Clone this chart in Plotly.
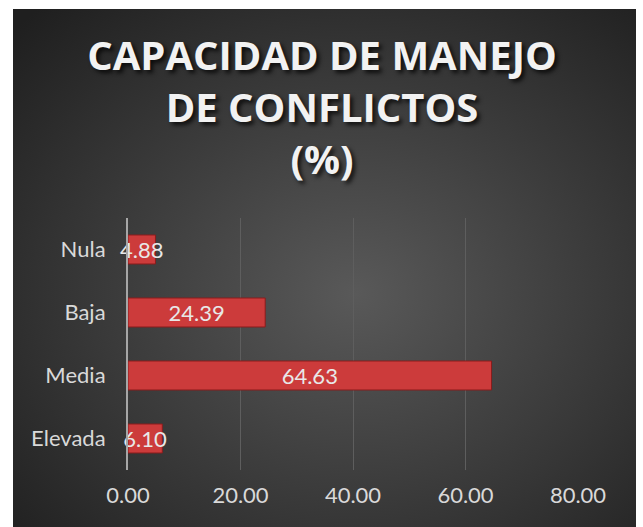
import base64
import plotly.graph_objects as go

categories = ["Nula", "Baja", "Media", "Elevada"]
values = [4.88, 24.39, 64.63, 6.10]
x_tickvals = [0, 20, 40, 60, 80]

svg = """<svg xmlns='http://www.w3.org/2000/svg' width='623' height='518' preserveAspectRatio='none'>
<defs><radialGradient id='g' cx='55%' cy='55%' r='75%'>
<stop offset='0' stop-color='#595959'/><stop offset='1' stop-color='#1f1f1f'/>
</radialGradient></defs>
<rect width='623' height='518' fill='url(#g)'/></svg>"""
bg = "data:image/svg+xml;base64," + base64.b64encode(svg.encode()).decode()

W, H = 643, 527
ml, mr, mt, mb = 128, 65, 218, 57
pw, ph = W - ml - mr, H - mt - mb

fig = go.Figure(go.Bar(
    y=categories, x=values, orientation="h",
    marker=dict(color="#cc3b3b", line=dict(color="#8a1c1c", width=1)),
    text=values, texttemplate="%{x:.2f}", textposition="inside",
    insidetextanchor="middle", constraintext="none", textangle=0,
    textfont=dict(family="Lato", size=22, color="#e8e8e8"),
    cliponaxis=False,
))

fig.update_layout(
    width=W, height=H,
    margin=dict(l=ml, r=mr, t=mt, b=mb),
    paper_bgcolor="white", plot_bgcolor="rgba(0,0,0,0)",
    bargap=0.54, showlegend=False,
    title=dict(
        text="CAPACIDAD DE MANEJO<br>DE CONFLICTOS<br>(%)",
        x=322 / W, xanchor="center", y=1 - 70 / H, yanchor="top",
        font=dict(family="Open Sans", size=40, color="#f2f2f2",
                  weight="bold", shadow="3px 3px 4px rgba(0,0,0,0.75)"),
    ),
    images=[dict(
        source=bg, xref="paper", yref="paper",
        x=(13 - ml) / pw, y=(H - mb - 9) / ph,
        sizex=(636 - 13) / pw, sizey=(527 - 9) / ph,
        xanchor="left", yanchor="top", sizing="stretch", layer="below",
    )],
)
fig.update_xaxes(
    range=[0, 80], tickvals=x_tickvals, tickformat=".2f",
    showgrid=True, gridcolor="#5e5e5e", gridwidth=1, zeroline=False,
    tickfont=dict(family="Lato", size=22, color="#d9d9d9"),
    ticklabelstandoff=10, showline=False,
)
fig.update_yaxes(
    autorange="reversed", showgrid=False, showline=True,
    linecolor="#a6a6a6", linewidth=2,
    tickfont=dict(family="Lato", size=22, color="#d9d9d9"),
    ticklabelstandoff=16,
)

fig.write_html("out.html", config={"displayModeBar": False},
               post_script="document.body.style.margin='0';")
